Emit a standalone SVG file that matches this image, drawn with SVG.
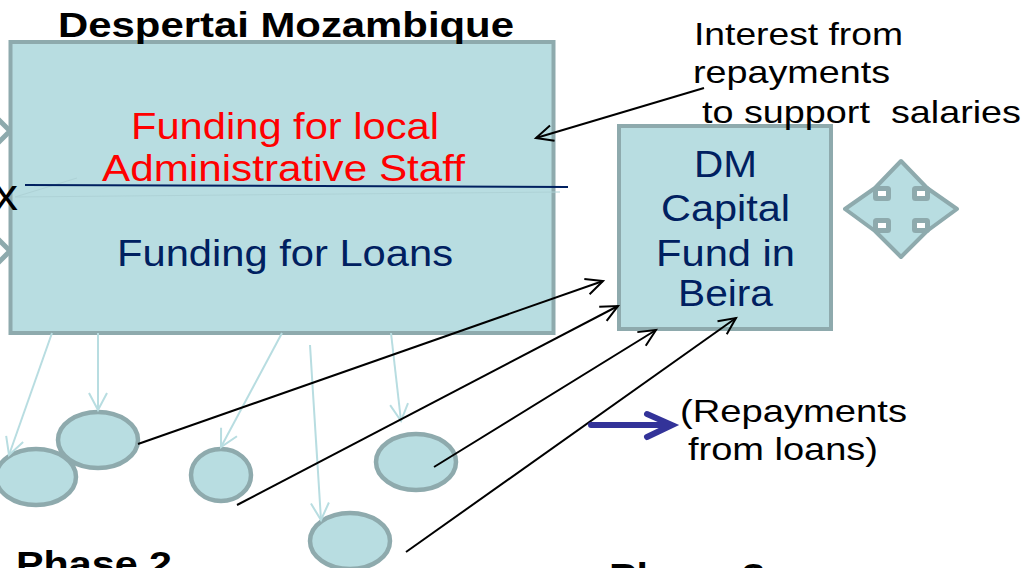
<svg xmlns="http://www.w3.org/2000/svg" width="1029" height="568" viewBox="0 0 1029 568">
<defs>
<marker id="blk" markerUnits="userSpaceOnUse" markerWidth="24" markerHeight="24" refX="18" refY="10" orient="auto" overflow="visible"><path d="M1 2L18 10L1 18" fill="none" stroke="#000" stroke-width="2"/></marker>
<marker id="lt" markerUnits="userSpaceOnUse" markerWidth="24" markerHeight="24" refX="18" refY="10" orient="auto" overflow="visible"><path d="M1 1L18 10L1 19" fill="none" stroke="#b8dde1" stroke-width="2"/></marker>
</defs>
<style>
text{font-family:"Liberation Sans",Arial,sans-serif}
.n{fill:#b8dde1;stroke:#8eaaad;stroke-width:4.500px}
.b{fill:#b8dde1;stroke:#8eaaad;stroke-width:4px}
.k{fill:#fff;stroke:#8eaaad;stroke-width:5px}
.s{font-size:32px;fill:#000}
.t{font-size:36px;fill:#002060}
.r{font-size:36px;fill:#f00}
.h{font-size:35px;font-weight:bold;fill:#000}
.cb{fill:none;stroke:#000;stroke-width:2}
.cl{fill:none;stroke:#b8dde1;stroke-width:2}
</style>
<g id="side-arrows" fill="none" stroke="#8eaaad" stroke-width="5">
<path d="M-3 118L10 131L-3 144"/>
<path d="M-3 238L10 251L-3 264"/>
</g>
<g id="despertai">
<rect class="b" x="10.500" y="42" width="543" height="291"/>
<text class="h" x="58" y="37" textLength="456" lengthAdjust="spacingAndGlyphs">Despertai Mozambique</text>
<path d="M15 197L77 178M15 197L560 192" stroke="#aed2d6" stroke-width="1" fill="none"/>
<text class="r" x="131" y="139" textLength="308" lengthAdjust="spacingAndGlyphs">Funding for local</text>
<text class="r" x="102" y="181" textLength="363" lengthAdjust="spacingAndGlyphs">Administrative Staff</text>
<text class="t" x="117" y="266" textLength="336" lengthAdjust="spacingAndGlyphs">Funding for Loans</text>
<path d="M25 185L568 187" stroke="#002060" stroke-width="2" fill="none"/>
<text x="-6" y="210" textLength="24" lengthAdjust="spacingAndGlyphs" style="font-size:44px">x</text>
</g>
<g id="capital">
<rect class="b" x="619" y="126" width="212" height="203"/>
<text class="t" x="694" y="177" textLength="63" lengthAdjust="spacingAndGlyphs">DM</text>
<text class="t" x="661" y="221" textLength="129" lengthAdjust="spacingAndGlyphs">Capital</text>
<text class="t" x="656" y="266" textLength="139" lengthAdjust="spacingAndGlyphs">Fund in</text>
<text class="t" x="678" y="306" textLength="95" lengthAdjust="spacingAndGlyphs">Beira</text>
</g>
<g id="cross">
<path class="b" stroke-linejoin="round" d="M901 161L875 188L845 209L875 231L901 257L927 231L957 209L927 188Z"/>
<rect class="k" x="875.500" y="188.500" width="13" height="10" rx="1"/>
<rect class="k" x="914.500" y="188.500" width="13" height="10" rx="1"/>
<rect class="k" x="875.500" y="220.500" width="13" height="10" rx="1"/>
<rect class="k" x="914.500" y="220.500" width="13" height="10" rx="1"/>
</g>
<g id="c1"><ellipse class="n" cx="36" cy="477" rx="40" ry="28"/></g>
<g id="c2"><ellipse class="n" cx="98" cy="440" rx="40" ry="28"/></g>
<g id="c3"><ellipse class="n" cx="221" cy="475" rx="30" ry="26"/></g>
<g id="c4"><ellipse class="n" cx="416" cy="462" rx="40" ry="28"/></g>
<g id="c5"><ellipse class="n" cx="350" cy="541" rx="40" ry="28"/></g>
<g id="connectors">
<path class="cl" marker-end="url(#lt)" d="M52 333L9 455"/>
<path class="cl" marker-end="url(#lt)" d="M98 333L98 410"/>
<path class="cl" marker-end="url(#lt)" d="M282 333L221 447"/>
<path class="cl" marker-end="url(#lt)" d="M310 345L321 520"/>
<path class="cl" marker-end="url(#lt)" d="M391 333L401 421"/>
<path class="cb" marker-end="url(#blk)" d="M138 444L603 281"/>
<path class="cb" marker-end="url(#blk)" d="M237 505L618 306"/>
<path class="cb" marker-end="url(#blk)" d="M434 467L656 330"/>
<path class="cb" marker-end="url(#blk)" d="M406 552L736 318"/>
<path class="cb" marker-end="url(#blk)" d="M704 88L536 138"/>
<path d="M591 425H668M647 414L672 425L647 437" fill="none" stroke="#333399" stroke-width="6" stroke-linecap="round"/>
</g>
<g id="labels">
<text class="s" x="694" y="45" textLength="209" lengthAdjust="spacingAndGlyphs">Interest from</text>
<text class="s" x="693" y="83" textLength="197" lengthAdjust="spacingAndGlyphs">repayments</text>
<text class="s" x="702" y="123" textLength="319" lengthAdjust="spacingAndGlyphs" xml:space="preserve">to support  salaries</text>
<text class="s" x="680" y="422" textLength="227" lengthAdjust="spacingAndGlyphs">(Repayments</text>
<text class="s" x="688" y="460" textLength="190" lengthAdjust="spacingAndGlyphs">from loans)</text>
<text class="h" x="16" y="576" textLength="156" lengthAdjust="spacingAndGlyphs">Phase 2</text>
<text class="h" x="609" y="588" textLength="156" lengthAdjust="spacingAndGlyphs">Phase 3</text>
</g>
</svg>
